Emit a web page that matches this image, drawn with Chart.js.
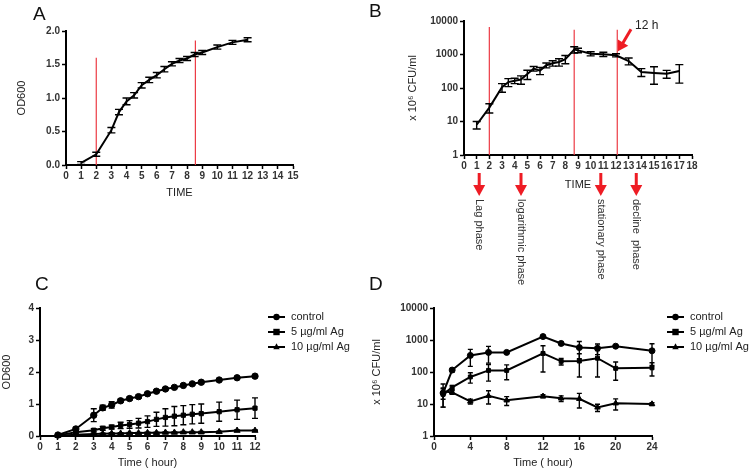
<!DOCTYPE html>
<html>
<head>
<meta charset="utf-8">
<script src="https://cdn.jsdelivr.net/npm/chart.js@4.4.0/dist/chart.umd.min.js"></script>
<style>
  body { margin: 0; background: #fff; width: 756px; height: 471px; position: relative; overflow: hidden; font-family: "Liberation Sans", Arial, sans-serif; }
  canvas { position: absolute; }
  .lbl { position: absolute; font-size: 19px; color: #111; line-height: 1; }
</style>
</head>
<body>
<canvas id="cA" width="370" height="200" style="left:0;top:0"></canvas>
<canvas id="cB" width="386" height="290" style="left:370px;top:0"></canvas>
<canvas id="cC" width="370" height="201" style="left:0;top:270px"></canvas>
<canvas id="cD" width="386" height="201" style="left:370px;top:270px"></canvas>
<div class="lbl" style="left:33px;top:4px">A</div>
<div class="lbl" style="left:369px;top:1px">B</div>
<div class="lbl" style="left:35px;top:274px">C</div>
<div class="lbl" style="left:369px;top:274px">D</div>
<script>
// panel A - OD600 growth curve
const timeA = [1, 2, 3, 3.5, 4, 4.5, 5, 5.5, 6, 6.5, 7, 7.5, 8, 8.5, 9, 10, 11, 12];
const odA = [0.03, 0.16, 0.52, 0.79, 0.95, 1.04, 1.19, 1.27, 1.34, 1.43, 1.51, 1.56, 1.59, 1.65, 1.68, 1.76, 1.83, 1.87];
const errA = [0.02, 0.03, 0.04, 0.04, 0.05, 0.04, 0.04, 0.04, 0.04, 0.04, 0.03, 0.03, 0.03, 0.03, 0.03, 0.03, 0.03, 0.03];
const phaseLinesA = [2, 8.55];
const phaseTopsA = [1.6, 1.86];

// panel B - CFU count
const timeB = [1, 2, 3, 3.5, 4, 4.5, 5, 5.5, 6, 6.5, 7, 7.5, 8, 8.7, 9, 10, 11, 12, 13, 14, 15, 16, 17];
const cfuB = [8, 26, 105, 150, 165, 180, 260, 380, 330, 480, 550, 600, 730, 1400, 1330, 1060, 1020, 950, 640, 300, 280, 265, 320];
const errB = [2, 8, 30, 40, 30, 50, 80, 60, 80, 80, 100, 150, 200, 300, 200, 150, 150, 100, 150, 80, 150, 70, 180];
const phaseLinesB = [2, 8.7, 12.1];
const phaseTopsB = [6600, 5500, 5500];
const phaseArrowsB = [1.2, 4.5, 10.8, 13.6];
const phaseNames = ['Lag phase', 'logarithmic phase', 'stationary phase', 'decline  phase'];

// panel C - OD600 with silver
const timeC = [1, 2, 3, 3.5, 4, 4.5, 5, 5.5, 6, 6.5, 7, 7.5, 8, 8.5, 9, 10, 11, 12];
const ctrlC = [0.03, 0.22, 0.65, 0.88, 0.97, 1.1, 1.17, 1.23, 1.32, 1.4, 1.47, 1.52, 1.58, 1.63, 1.68, 1.75, 1.82, 1.87];
const ag5C = [0.02, 0.12, 0.18, 0.24, 0.28, 0.33, 0.36, 0.4, 0.45, 0.52, 0.58, 0.62, 0.65, 0.68, 0.7, 0.76, 0.82, 0.87];
const ag10C = [0.01, 0.04, 0.06, 0.07, 0.08, 0.08, 0.09, 0.09, 0.1, 0.1, 0.11, 0.11, 0.12, 0.12, 0.12, 0.13, 0.17, 0.17];
const errCtrlC = [0.02, 0.05, 0.2, 0.08, 0.1, 0.05, 0.05, 0.05, 0.04, 0.04, 0.04, 0.03, 0.03, 0.03, 0.04, 0.03, 0.03, 0.03];
const errAg5C = [0.02, 0.04, 0.05, 0.06, 0.06, 0.1, 0.12, 0.15, 0.18, 0.22, 0.27, 0.3, 0.3, 0.3, 0.3, 0.3, 0.3, 0.32];
const errAg10C = [0.01, 0.02, 0.02, 0.02, 0.02, 0.02, 0.02, 0.02, 0.02, 0.02, 0.02, 0.02, 0.02, 0.02, 0.02, 0.02, 0.02, 0.02];

// panel D - CFU with silver
const timeD = [1, 2, 4, 6, 8, 12, 14, 16, 18, 20, 24];
const ctrlD = [22, 115, 330, 410, 410, 1280, 780, 580, 550, 640, 460];
const ag5D = [20, 33, 70, 112, 112, 380, 215, 220, 270, 130, 135];
const ag10D = [25, 23, 12, 18, 13, 17.5, 15, 14.5, 7.8, 10.5, 10];
const errCtrlD = [8, 15, 180, 220, 20, 80, 60, 320, 200, 40, 300];
const errAg5D = [12, 5, 25, 60, 55, 280, 50, 150, 200, 75, 60];
const errAg10D = [17, 3, 2, 8, 4, 2, 3, 7, 2, 4, 1];

const seriesNames = ['control', '5 \u00b5g/ml Ag', '10 \u00b5g/ml Ag'];

const FAM = '"Liberation Sans", Arial, sans-serif';
const tickFont = { family: FAM, size: 10, weight: 'bold' };
const titleFont = { family: FAM, size: 11 };

const isDecade = v => { const l = Math.log10(v); return Math.abs(l - Math.round(l)) < 1e-9; };
const logTicks = [];
for (let d = 0; d < 4; d++) for (let k = 1; k < 10; k++) logTicks.push(k * Math.pow(10, d));
logTicks.push(10000);

const pts = (xs, ys) => xs.map((x, i) => ({ x: x, y: ys[i] }));

function xAxis(max, step, title, height, titlePad) {
  return {
    type: 'linear', min: 0, max: max,
    afterFit(s) { s.height = height; },
    border: { color: '#000', width: 2 },
    grid: { drawOnChartArea: false, drawTicks: true, tickLength: 4, tickColor: '#000', tickWidth: 1.5 },
    ticks: { stepSize: step, color: '#333', font: tickFont, autoSkip: false, maxRotation: 0, padding: 1 },
    title: { display: true, text: title, color: '#222', font: titleFont, padding: { top: 0, bottom: titlePad } }
  };
}

function yAxis(opts) {
  const ax = {
    type: opts.log ? 'logarithmic' : 'linear', min: opts.min, max: opts.max,
    afterFit(s) { s.width = opts.width; },
    border: { color: '#000', width: 2 },
    grid: { drawOnChartArea: false, drawTicks: true, tickLength: 4, tickColor: '#000', tickWidth: 1.5 },
    ticks: { color: '#333', font: tickFont, padding: 2 },
    title: { display: true, text: opts.title, color: '#222', font: titleFont, padding: { top: opts.titlePad, bottom: 0 } }
  };
  if (opts.log) {
    ax.afterBuildTicks = s => { s.ticks = logTicks.map(v => ({ value: v, major: isDecade(v) })); };
    ax.ticks.callback = v => isDecade(v) ? String(Math.round(v)) : '';
    ax.grid.tickWidth = c => (c.tick && isDecade(c.tick.value)) ? 1.5 : 1;
  } else {
    ax.ticks.stepSize = opts.step;
    ax.ticks.callback = v => v.toFixed(opts.decimals || 0);
  }
  return ax;
}

function series(label, xs, ys, errs, style, radius, cap) {
  return {
    label: label, data: pts(xs, ys), errors: errs, capWidth: cap,
    borderColor: '#000', backgroundColor: '#000', borderWidth: 2, tension: 0,
    pointStyle: style, pointRadius: radius, pointBorderWidth: 1, clip: false
  };
}

const errorBars = {
  id: 'errorBars',
  afterDatasetsDraw(chart) {
    const ctx = chart.ctx;
    const ys = chart.scales.y;
    chart.data.datasets.forEach((ds, i) => {
      if (!ds.errors) return;
      const meta = chart.getDatasetMeta(i);
      ctx.save();
      ctx.strokeStyle = '#000';
      ctx.lineWidth = 1.4;
      meta.data.forEach((pt, j) => {
        const v = ds.data[j].y, e = ds.errors[j];
        const lo = Math.max(v - e, ys.min);
        const top = ys.getPixelForValue(v + e);
        const bot = ys.getPixelForValue(lo);
        const w = ds.capWidth / 2;
        ctx.beginPath();
        ctx.moveTo(pt.x, top); ctx.lineTo(pt.x, bot);
        ctx.moveTo(pt.x - w, top); ctx.lineTo(pt.x + w, top);
        if (v - e > ys.min) { ctx.moveTo(pt.x - w, bot); ctx.lineTo(pt.x + w, bot); }
        ctx.stroke();
      });
      ctx.restore();
    });
  }
};

const phaseLines = {
  id: 'phaseLines',
  beforeDatasetsDraw(chart, args, opts) {
    const ctx = chart.ctx;
    const xs = chart.scales.x, ys = chart.scales.y;
    ctx.save();
    ctx.strokeStyle = '#ec3a44';
    ctx.lineWidth = 1.2;
    opts.at.forEach((t, i) => {
      const x = xs.getPixelForValue(t);
      ctx.beginPath();
      ctx.moveTo(x, chart.chartArea.bottom);
      ctx.lineTo(x, ys.getPixelForValue(opts.tops[i]));
      ctx.stroke();
    });
    ctx.restore();
  }
};

function redArrow(ctx, x0, y0, x1, y1, shaft, head, headLen) {
  const a = Math.atan2(y1 - y0, x1 - x0);
  const len = Math.hypot(x1 - x0, y1 - y0);
  ctx.save();
  ctx.translate(x0, y0);
  ctx.rotate(a);
  ctx.fillStyle = '#ee1c24';
  ctx.fillRect(0, -shaft / 2, len - headLen + 1, shaft);
  ctx.beginPath();
  ctx.moveTo(len, 0);
  ctx.lineTo(len - headLen, -head / 2);
  ctx.lineTo(len - headLen, head / 2);
  ctx.closePath();
  ctx.fill();
  ctx.restore();
}

const phaseArrows = {
  id: 'phaseArrows',
  afterDraw(chart, args, opts) {
    const ctx = chart.ctx;
    const xs = chart.scales.x, ys = chart.scales.y;
    opts.at.forEach((t, i) => {
      const x = xs.getPixelForValue(t);
      redArrow(ctx, x, 173, x, 196, 3, 12, 11);
      ctx.save();
      ctx.translate(x, 199);
      ctx.rotate(Math.PI / 2);
      ctx.fillStyle = '#333';
      ctx.font = '11px ' + FAM;
      ctx.textAlign = 'left';
      ctx.textBaseline = 'middle';
      ctx.fillText(opts.names[i], 0, 0);
      ctx.restore();
    });
    // 12 h marker
    const px = xs.getPixelForValue(opts.mark.x) + 2;
    const py = ys.getPixelForValue(opts.mark.y) - 4;
    redArrow(ctx, px + 13, py - 22, px, py, 3, 12, 10);
    ctx.save();
    ctx.fillStyle = '#222';
    ctx.font = '12px ' + FAM;
    ctx.textBaseline = 'middle';
    ctx.fillText(opts.mark.text, px + 17, py - 26);
    ctx.restore();
  }
};

function drawMarker(ctx, style, x, y, r) {
  ctx.beginPath();
  if (style === 'circle') ctx.arc(x, y, r, 0, Math.PI * 2);
  else if (style === 'rect') ctx.rect(x - r, y - r, 2 * r, 2 * r);
  else { ctx.moveTo(x, y - r * 1.2); ctx.lineTo(x + r, y + r * 0.7); ctx.lineTo(x - r, y + r * 0.7); ctx.closePath(); }
  ctx.fill();
}

const sideLegend = {
  id: 'sideLegend',
  afterDraw(chart, args, opts) {
    const ctx = chart.ctx;
    ctx.save();
    chart.data.datasets.forEach((ds, i) => {
      const y = opts.y + i * 15;
      ctx.strokeStyle = '#000';
      ctx.lineWidth = 2;
      ctx.beginPath();
      ctx.moveTo(opts.x, y); ctx.lineTo(opts.x + 17, y);
      ctx.stroke();
      ctx.fillStyle = '#000';
      drawMarker(ctx, ds.pointStyle, opts.x + 8.5, y, 3.2);
      ctx.fillStyle = '#222';
      ctx.font = '11px ' + FAM;
      ctx.textBaseline = 'middle';
      ctx.fillText(ds.label, opts.x + 23, y);
    });
    ctx.restore();
  }
};

const base = { responsive: false, animation: false, events: [] };

new Chart(document.getElementById('cA'), {
  type: 'line',
  data: { datasets: [series('OD600', timeA, odA, errA, 'circle', 0, 8)] },
  options: Object.assign({}, base, {
    layout: { padding: { left: 0, top: 31, right: 77, bottom: 0 } },
    plugins: { legend: { display: false }, tooltip: { enabled: false },
      phaseLines: { at: phaseLinesA, tops: phaseTopsA } },
    scales: {
      x: xAxis(15, 1, 'TIME', 35, 0),
      y: yAxis({ min: 0, max: 2, step: 0.5, decimals: 1, width: 66, title: 'OD600', titlePad: 15 })
    }
  }),
  plugins: [errorBars, phaseLines]
});

new Chart(document.getElementById('cB'), {
  type: 'line',
  data: { datasets: [series('CFU', timeB, cfuB, errB, 'circle', 0, 8)] },
  options: Object.assign({}, base, {
    layout: { padding: { left: 0, top: 21, right: 64, bottom: 0 } },
    plugins: { legend: { display: false }, tooltip: { enabled: false },
      phaseLines: { at: phaseLinesB, tops: phaseTopsB },
      phaseArrows: { at: phaseArrowsB, names: phaseNames, mark: { x: 12, y: 950, text: '12 h' } } },
    scales: {
      x: xAxis(18, 1, 'TIME', 135, 98),
      y: yAxis({ log: true, min: 1, max: 10000, width: 94, title: 'x 10\u2076 CFU/ml', titlePad: 36 })
    }
  }),
  plugins: [errorBars, phaseLines, phaseArrows]
});

new Chart(document.getElementById('cC'), {
  type: 'line',
  data: { datasets: [
    series(seriesNames[0], timeC, ctrlC, errCtrlC, 'circle', 3.2, 6),
    series(seriesNames[1], timeC, ag5C, errAg5C, 'rect', 3, 6),
    series(seriesNames[2], timeC, ag10C, errAg10C, 'triangle', 3.5, 6)
  ] },
  options: Object.assign({}, base, {
    layout: { padding: { left: 0, top: 38, right: 115, bottom: 0 } },
    plugins: { legend: { display: false }, tooltip: { enabled: false },
      sideLegend: { x: 268, y: 47 } },
    scales: {
      x: xAxis(12, 1, 'Time ( hour)', 35, 1),
      y: yAxis({ min: 0, max: 4, step: 1, width: 40, title: 'OD600', titlePad: 0 })
    }
  }),
  plugins: [errorBars, sideLegend]
});

new Chart(document.getElementById('cD'), {
  type: 'line',
  data: { datasets: [
    series(seriesNames[0], timeD, ctrlD, errCtrlD, 'circle', 3, 5),
    series(seriesNames[1], timeD, ag5D, errAg5D, 'rect', 2.8, 5),
    series(seriesNames[2], timeD, ag10D, errAg10D, 'triangle', 3.2, 5)
  ] },
  options: Object.assign({}, base, {
    layout: { padding: { left: 0, top: 38, right: 104, bottom: 0 } },
    plugins: { legend: { display: false }, tooltip: { enabled: false },
      sideLegend: { x: 297, y: 47 } },
    scales: {
      x: xAxis(24, 4, 'Time ( hour)', 35, 1),
      y: yAxis({ log: true, min: 1, max: 10000, width: 64, title: 'x 10\u2076 CFU/ml', titlePad: 0 })
    }
  }),
  plugins: [errorBars, sideLegend]
});
</script>
</body>
</html>
